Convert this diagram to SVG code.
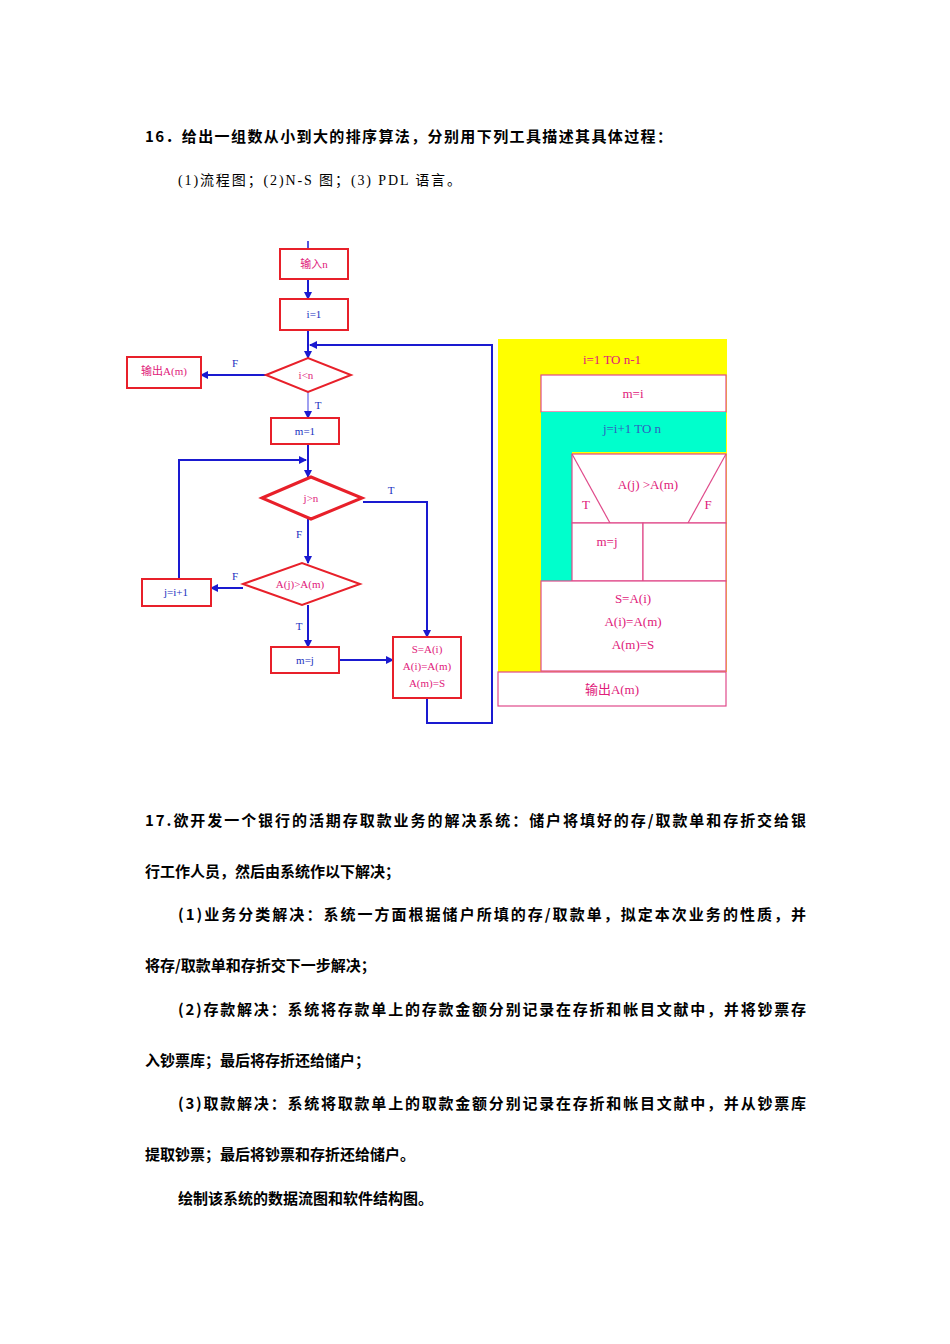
<svg xmlns="http://www.w3.org/2000/svg" width="950" height="1344" viewBox="0 0 950 1344">
<style>
.t{font-family:"Noto Sans CJK SC",sans-serif;font-size:15px;fill:#000;font-weight:bold}
.s{font-family:"Liberation Serif","Noto Sans CJK SC",serif;font-size:14px;fill:#000}
.b{fill:#fff;stroke:#e8202a;stroke-width:2}
.l{font-family:"Liberation Serif","Noto Sans CJK SC",serif;font-size:11px;fill:#e0207a;text-anchor:middle}
.lb{font-family:"Liberation Serif",serif;font-size:11px;fill:#2030c0;text-anchor:middle}
.c{fill:none;stroke:#1a1ad0;stroke-width:2}
.n{fill:#fff;stroke:#e04a8a;stroke-width:1.2}
.nt{font-family:"Liberation Serif","Noto Sans CJK SC",serif;font-size:13px;fill:#e0207a;text-anchor:middle}
</style>
<defs><marker id="a" markerWidth="4" markerHeight="4" refX="3.5" refY="2" orient="auto"><path d="M0,0 L4,2 L0,4 z" fill="#1a1ad0"/></marker></defs>
<rect width="950" height="1344" fill="#fff"/>
<text class="t" x="145" y="142" textLength="527">16．给出一组数从小到大的排序算法，分别用下列工具描述其具体过程：</text>
<text class="s" x="178" y="185" textLength="283">(1)流程图；(2)N-S 图；(3) PDL 语言。</text>
<g id="connectors">
<path d="M308,241 V249" stroke="#1a1ad0" stroke-width="1.5"/>
<path class="c" d="M308,279 V299" marker-end="url(#a)"/>
<path class="c" d="M308,330 V358" marker-end="url(#a)"/>
<path class="c" d="M427,698 V723 H492 V345 H310" marker-end="url(#a)"/>
<path class="c" d="M266,375 H201" marker-end="url(#a)"/>
<path d="M308,392 V418" stroke="#a0a0f0" stroke-width="2" marker-end="url(#a)"/>
<path class="c" d="M308,444 V477" marker-end="url(#a)"/>
<path class="c" d="M179,579 V460 H306" marker-end="url(#a)"/>
<path class="c" d="M308,519 V563" marker-end="url(#a)"/>
<path class="c" d="M363,502 H427 V637" marker-end="url(#a)"/>
<path class="c" d="M243,588 H211" marker-end="url(#a)"/>
<path class="c" d="M308,605 V647" marker-end="url(#a)"/>
<path class="c" d="M339,660 H393" marker-end="url(#a)"/>
<text class="lb" x="235" y="367">F</text>
<text class="lb" x="318" y="409">T</text>
<text class="lb" x="391" y="494">T</text>
<text class="lb" x="299" y="538">F</text>
<text class="lb" x="235" y="580">F</text>
<text class="lb" x="299" y="630">T</text>
</g>
<g id="n1"><rect class="b" x="280" y="249" width="68" height="30"/><text class="l" x="314" y="268">输入n</text></g>
<g id="n2"><rect class="b" x="280" y="299" width="68" height="31"/><text class="lb" x="314" y="318">i=1</text></g>
<g id="n3"><polygon class="b" points="266,375 308,358 351,375 308,392"/><text class="l" x="306" y="379">i&lt;n</text></g>
<g id="n4"><rect class="b" x="127" y="357" width="74" height="31"/><text class="l" x="164" y="375">输出A(m)</text></g>
<g id="n5"><rect class="b" x="271" y="418" width="68" height="26"/><text class="lb" x="305" y="435">m=1</text></g>
<g id="n6"><polygon points="262,498 311,477 362,498 311,519" fill="#fff" stroke="#e8202a" stroke-width="3"/><text class="l" x="311" y="502">j&gt;n</text></g>
<g id="n7"><polygon class="b" points="243,584 302,563 360,584 302,605"/><text class="l" x="300" y="588">A(j)&gt;A(m)</text></g>
<g id="n8"><rect class="b" x="142" y="579" width="69" height="27"/><text class="lb" x="176" y="596">j=i+1</text></g>
<g id="n9"><rect class="b" x="271" y="647" width="68" height="26"/><text class="lb" x="305" y="664">m=j</text></g>
<g id="n10"><rect class="b" x="393" y="637" width="68" height="61"/><text class="l" x="427" y="653" font-size="9">S=A(i)</text><text class="l" x="427" y="670" font-size="9">A(i)=A(m)</text><text class="l" x="427" y="687" font-size="9">A(m)=S</text></g>
<g id="ns">
<rect x="498" y="339" width="229" height="333" fill="#ffff00"/>
<text class="nt" x="612" y="364">i=1 TO n-1</text>
<rect class="n" x="541" y="375" width="185" height="37"/><text class="nt" x="633" y="398">m=i</text>
<rect x="541" y="412" width="185" height="40" fill="#00ffcc"/><text class="nt" x="632" y="433" style="fill:#3060c0">j=i+1 TO n</text>
<rect x="541" y="452" width="31" height="129" fill="#00ffcc"/>
<rect class="n" x="572" y="454" width="154" height="69"/>
<line x1="572" y1="454" x2="610" y2="523" stroke="#e04a8a" stroke-width="1.2"/>
<line x1="726" y1="454" x2="688" y2="523" stroke="#e04a8a" stroke-width="1.2"/>
<text class="nt" x="648" y="489">A(j) &gt;A(m)</text>
<text class="nt" x="586" y="509">T</text><text class="nt" x="708" y="509">F</text>
<rect class="n" x="572" y="523" width="71" height="58"/><text class="nt" x="607" y="546">m=j</text>
<rect class="n" x="643" y="523" width="83" height="58"/>
<rect class="n" x="541" y="581" width="185" height="90"/>
<text class="nt" x="633" y="603">S=A(i)</text><text class="nt" x="633" y="626">A(i)=A(m)</text><text class="nt" x="633" y="649">A(m)=S</text>
<rect class="n" x="498" y="672" width="228" height="34"/><text class="nt" x="612" y="694">输出A(m)</text>
</g>
<text class="t" x="145" y="826" textLength="661">17.欲开发一个银行的活期存取款业务的解决系统：储户将填好的存/取款单和存折交给银</text>
<text class="t" x="145" y="877">行工作人员，然后由系统作以下解决；</text>
<text class="t" x="178" y="920" textLength="628">(1)业务分类解决：系统一方面根据储户所填的存/取款单，拟定本次业务的性质，并</text>
<text class="t" x="145" y="971">将存/取款单和存折交下一步解决；</text>
<text class="t" x="178" y="1015" textLength="628">(2)存款解决：系统将存款单上的存款金额分别记录在存折和帐目文献中，并将钞票存</text>
<text class="t" x="145" y="1066">入钞票库；最后将存折还给储户；</text>
<text class="t" x="178" y="1109" textLength="628">(3)取款解决：系统将取款单上的取款金额分别记录在存折和帐目文献中，并从钞票库</text>
<text class="t" x="145" y="1160">提取钞票；最后将钞票和存折还给储户。</text>
<text class="t" x="178" y="1204">绘制该系统的数据流图和软件结构图。</text>
</svg>
